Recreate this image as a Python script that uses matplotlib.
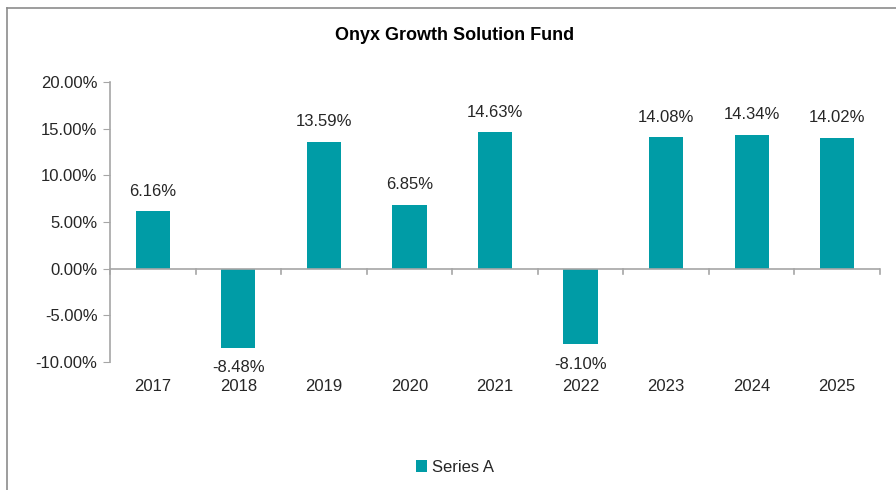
import matplotlib.pyplot as plt
import numpy as np

years = ['2017', '2018', '2019', '2020', '2021', '2022', '2023', '2024', '2025']
returns = [6.16, -8.48, 13.59, 6.85, 14.63, -8.10, 14.08, 14.34, 14.02]
y_ticks = [-10, -5, 0, 5, 10, 15, 20]

bar_color = '#009CA6'
axis_color = '#A6A6A6'
text_color = '#262626'
plt.rcParams['font.family'] = ['Liberation Sans', 'DejaVu Sans']

fig = plt.figure(figsize=(8.96, 4.9), dpi=100)
ax = fig.add_axes([110 / 896, 1 - 362 / 490, 770 / 896, 280 / 490])

x = np.arange(len(years))
bars = ax.bar(x, returns, width=0.4, color=bar_color, label='Series A', zorder=2)

ax.set_xlim(-0.5, len(years) - 0.5)
ax.set_ylim(-10, 20)
ax.set_yticks(y_ticks)
ax.set_yticklabels([f'{v:.2f}%' for v in y_ticks], fontsize=12, color=text_color)
ax.tick_params(axis='y', length=5, color=axis_color, pad=4)

# category labels sit at the bottom of the plot
ax.set_xticks(x)
ax.set_xticklabels(years, fontsize=12, color=text_color)
ax.tick_params(axis='x', length=0, pad=12)

for s in ['top', 'right', 'bottom']:
    ax.spines[s].set_visible(False)
ax.spines['left'].set_color(axis_color)
ax.spines['left'].set_linewidth(1.2)

# zero line with ticks between categories
ax.axhline(0, color=axis_color, lw=1.2, zorder=3)
for b in np.arange(-0.5, len(years), 1.0):
    ax.plot([b, b], [0, -0.55], color=axis_color, lw=1.2, clip_on=False, zorder=3)

for xi, v in zip(x, returns):
    if v >= 0:
        ax.annotate(f'{v:.2f}%', (xi, v), xytext=(0, 9), textcoords='offset points',
                    ha='center', va='bottom', fontsize=12, color=text_color)
    else:
        ax.annotate(f'{v:.2f}%', (xi, v), xytext=(0, -9), textcoords='offset points',
                    ha='center', va='top', fontsize=12, color=text_color)

fig.text(455 / 896, 1 - 35 / 490, 'Onyx Growth Solution Fund', ha='center', va='center',
         fontsize=13, fontweight='bold', color='#000000',
         family=['Liberation Sans Narrow', 'Liberation Sans', 'DejaVu Sans'])

fig.legend(handles=[bars], labels=['Series A'], loc='center', bbox_to_anchor=(455 / 896, 1 - 467 / 490),
           frameon=False, fontsize=12, handlelength=0.7, handleheight=0.7, handletextpad=0.3,
           labelcolor=text_color)

# outer chart border
fig.add_artist(plt.Line2D([7 / 896, 7 / 896], [0, 1 - 8 / 490], color='#8C8C8C', lw=1.2))
fig.add_artist(plt.Line2D([7 / 896, 1], [1 - 8 / 490, 1 - 8 / 490], color='#8C8C8C', lw=1.2))

fig.savefig('out.png', dpi=100)
